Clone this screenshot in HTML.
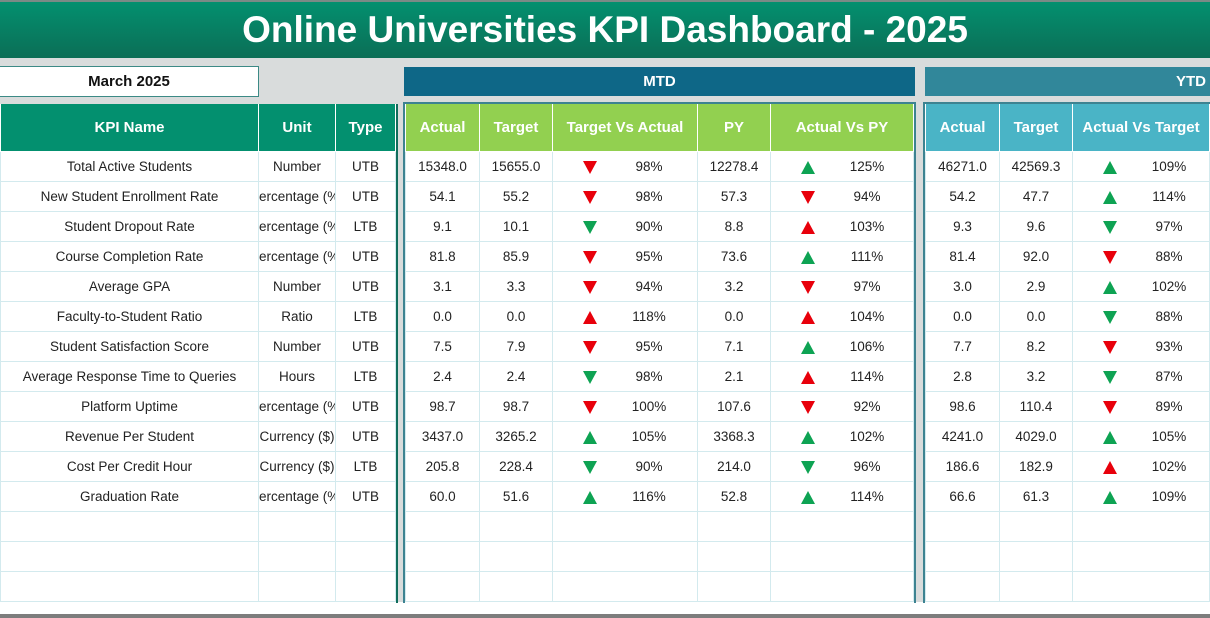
<!DOCTYPE html>
<html><head><meta charset="utf-8"><style>
*{margin:0;padding:0;box-sizing:border-box}
body{width:1210px;height:618px;background:#d9dcdc;position:relative;overflow:hidden;font-family:"Liberation Sans",sans-serif;font-size:13.5px;color:#222}
.title{position:absolute;left:0;top:0;width:1210px;height:58px;border-top:2px solid #7a8a86;background:linear-gradient(#03906f,#0b6e56);color:#fff;font-weight:bold;font-size:37px;text-align:center;line-height:56px}
.date{position:absolute;left:0;top:66px;width:259px;height:31px;background:#fff;border:1px solid #3c8a86;border-left:none;font-weight:bold;font-size:15px;text-align:center;line-height:29px;color:#111}
.bar{position:absolute;top:67px;height:29px;color:#fff;font-weight:bold;font-size:15px;line-height:29px;text-align:center}
.sec{position:absolute;top:104px;height:499px;background:#fff}
table{border-collapse:collapse;table-layout:fixed;width:100%}
td,th{height:30px;border:1px solid #d3eaee;text-align:center;white-space:nowrap;overflow:hidden;position:relative}
th{height:47px;color:#fff;font-size:15px;border-color:rgba(255,255,255,.6);border-top:none}
.l th{background:#03906f}.m th{background:#92d050}.y th{background:#4ab4c6}
.a{position:absolute;left:30px;top:9px;width:0;height:0;border-left:7px solid transparent;border-right:7px solid transparent}
.dn{border-top:13px solid #e8000b}.up{border-bottom:13px solid #0ea353}
.dg{border-top:13px solid #0ea353}.ur{border-bottom:13px solid #e8000b}
.p{position:absolute;left:66px;width:60px;top:7px;text-align:center}
.wb{position:absolute;left:0;top:602px;width:1210px;height:13px;background:#fff}
.bot{position:absolute;left:0;top:614px;width:1210px;height:4px;background:#7d7d7d}
</style></head><body>
<div class="title">Online Universities KPI Dashboard - 2025</div>
<div class="date">March 2025</div>
<div class="bar" style="left:404px;width:511px;background:#0e6787">MTD</div>
<div class="bar" style="left:925px;width:285px;background:#31879a;text-align:right;padding-right:4px">YTD</div>
<div class="wb"></div>

<div class="sec l" style="left:0;width:398px;border-right:2px solid #106d5c">
<table><colgroup><col style="width:258px"><col style="width:77px"><col></colgroup>
<tr><th>KPI Name</th><th>Unit</th><th>Type</th></tr>
<tr><td>Total Active Students</td><td>Number</td><td>UTB</td></tr>
<tr><td>New Student Enrollment Rate</td><td>ercentage (%</td><td>UTB</td></tr>
<tr><td>Student Dropout Rate</td><td>ercentage (%</td><td>LTB</td></tr>
<tr><td>Course Completion Rate</td><td>ercentage (%</td><td>UTB</td></tr>
<tr><td>Average GPA</td><td>Number</td><td>UTB</td></tr>
<tr><td>Faculty-to-Student Ratio</td><td>Ratio</td><td>LTB</td></tr>
<tr><td>Student Satisfaction Score</td><td>Number</td><td>UTB</td></tr>
<tr><td>Average Response Time to Queries</td><td>Hours</td><td>LTB</td></tr>
<tr><td>Platform Uptime</td><td>ercentage (%</td><td>UTB</td></tr>
<tr><td>Revenue Per Student</td><td>Currency ($)</td><td>UTB</td></tr>
<tr><td>Cost Per Credit Hour</td><td>Currency ($)</td><td>LTB</td></tr>
<tr><td>Graduation Rate</td><td>ercentage (%</td><td>UTB</td></tr>
<tr><td></td><td></td><td></td></tr><tr><td></td><td></td><td></td></tr><tr><td></td><td></td><td></td></tr>
</table></div>

<div class="sec m" style="left:403px;top:102px;height:501px;width:513px;border:2px solid #3d8391;border-bottom:none">
<table><colgroup><col style="width:74px"><col style="width:73px"><col style="width:145px"><col style="width:73px"><col></colgroup>
<tr><th>Actual</th><th>Target</th><th>Target Vs Actual</th><th>PY</th><th>Actual Vs PY</th></tr>
<tr><td>15348.0</td><td>15655.0</td><td><i class="a dn"></i><span class="p">98%</span></td><td>12278.4</td><td><i class="a up"></i><span class="p">125%</span></td></tr>
<tr><td>54.1</td><td>55.2</td><td><i class="a dn"></i><span class="p">98%</span></td><td>57.3</td><td><i class="a dn"></i><span class="p">94%</span></td></tr>
<tr><td>9.1</td><td>10.1</td><td><i class="a dg"></i><span class="p">90%</span></td><td>8.8</td><td><i class="a ur"></i><span class="p">103%</span></td></tr>
<tr><td>81.8</td><td>85.9</td><td><i class="a dn"></i><span class="p">95%</span></td><td>73.6</td><td><i class="a up"></i><span class="p">111%</span></td></tr>
<tr><td>3.1</td><td>3.3</td><td><i class="a dn"></i><span class="p">94%</span></td><td>3.2</td><td><i class="a dn"></i><span class="p">97%</span></td></tr>
<tr><td>0.0</td><td>0.0</td><td><i class="a ur"></i><span class="p">118%</span></td><td>0.0</td><td><i class="a ur"></i><span class="p">104%</span></td></tr>
<tr><td>7.5</td><td>7.9</td><td><i class="a dn"></i><span class="p">95%</span></td><td>7.1</td><td><i class="a up"></i><span class="p">106%</span></td></tr>
<tr><td>2.4</td><td>2.4</td><td><i class="a dg"></i><span class="p">98%</span></td><td>2.1</td><td><i class="a ur"></i><span class="p">114%</span></td></tr>
<tr><td>98.7</td><td>98.7</td><td><i class="a dn"></i><span class="p">100%</span></td><td>107.6</td><td><i class="a dn"></i><span class="p">92%</span></td></tr>
<tr><td>3437.0</td><td>3265.2</td><td><i class="a up"></i><span class="p">105%</span></td><td>3368.3</td><td><i class="a up"></i><span class="p">102%</span></td></tr>
<tr><td>205.8</td><td>228.4</td><td><i class="a dg"></i><span class="p">90%</span></td><td>214.0</td><td><i class="a dg"></i><span class="p">96%</span></td></tr>
<tr><td>60.0</td><td>51.6</td><td><i class="a up"></i><span class="p">116%</span></td><td>52.8</td><td><i class="a up"></i><span class="p">114%</span></td></tr>
<tr><td></td><td></td><td></td><td></td><td></td></tr><tr><td></td><td></td><td></td><td></td><td></td></tr><tr><td></td><td></td><td></td><td></td><td></td></tr>
</table></div>

<div class="sec y" style="left:923px;top:102px;height:501px;width:287px;border-left:2px solid #3d8391;border-top:2px solid #3d8391">
<table><colgroup><col style="width:74px"><col style="width:73px"><col></colgroup>
<tr><th>Actual</th><th>Target</th><th>Actual Vs Target</th></tr>
<tr><td>46271.0</td><td>42569.3</td><td><i class="a up"></i><span class="p">109%</span></td></tr>
<tr><td>54.2</td><td>47.7</td><td><i class="a up"></i><span class="p">114%</span></td></tr>
<tr><td>9.3</td><td>9.6</td><td><i class="a dg"></i><span class="p">97%</span></td></tr>
<tr><td>81.4</td><td>92.0</td><td><i class="a dn"></i><span class="p">88%</span></td></tr>
<tr><td>3.0</td><td>2.9</td><td><i class="a up"></i><span class="p">102%</span></td></tr>
<tr><td>0.0</td><td>0.0</td><td><i class="a dg"></i><span class="p">88%</span></td></tr>
<tr><td>7.7</td><td>8.2</td><td><i class="a dn"></i><span class="p">93%</span></td></tr>
<tr><td>2.8</td><td>3.2</td><td><i class="a dg"></i><span class="p">87%</span></td></tr>
<tr><td>98.6</td><td>110.4</td><td><i class="a dn"></i><span class="p">89%</span></td></tr>
<tr><td>4241.0</td><td>4029.0</td><td><i class="a up"></i><span class="p">105%</span></td></tr>
<tr><td>186.6</td><td>182.9</td><td><i class="a ur"></i><span class="p">102%</span></td></tr>
<tr><td>66.6</td><td>61.3</td><td><i class="a up"></i><span class="p">109%</span></td></tr>
<tr><td></td><td></td><td></td></tr><tr><td></td><td></td><td></td></tr><tr><td></td><td></td><td></td></tr>
</table></div>
<div class="bot"></div>
</body></html>
